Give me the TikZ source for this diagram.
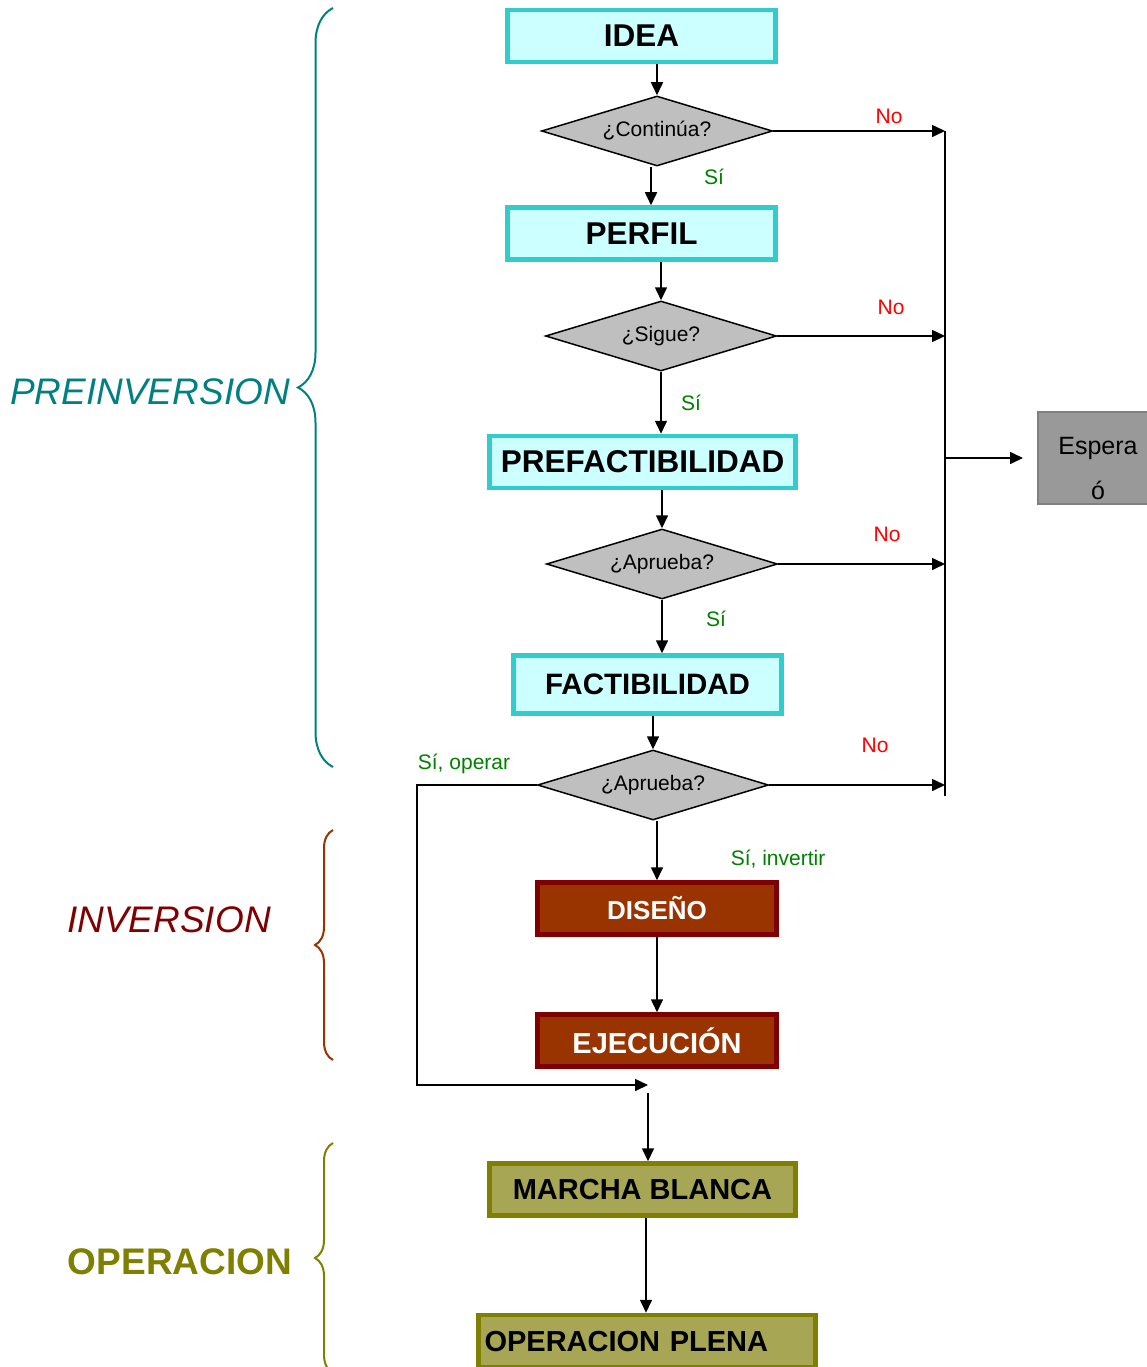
\documentclass[tikz,border=0pt]{standalone}
\usepackage{fontspec}
\setmainfont{Liberation Sans}
\usepackage{xcolor}
\usetikzlibrary{shapes.geometric,arrows.meta,decorations.pathreplacing}
\definecolor{cyb}{HTML}{33CCCC}
\definecolor{cyf}{HTML}{CCFFFF}
\definecolor{brb}{HTML}{800000}
\definecolor{brf}{HTML}{993300}
\definecolor{olb}{HTML}{808000}
\definecolor{olf}{HTML}{A6A654}
\definecolor{tea}{HTML}{008080}
\definecolor{grn}{HTML}{008000}

\begin{document}
\begin{tikzpicture}[x=1pt,y=-1pt,
  >={Triangle[length=13pt,width=12pt]},
  pre/.style={rectangle,draw=cyb,fill=cyf,line width=4.5pt,inner sep=6pt,
    minimum width=268pt,minimum height=52pt,font=\fontsize{31.5}{36}\selectfont\bfseries},
  inv/.style={rectangle,draw=brb,fill=brf,line width=4.5pt,inner sep=6pt,text=white,
    minimum width=239pt,minimum height=52pt,font=\fontsize{29}{35}\selectfont\bfseries},
  op/.style={rectangle,draw=olb,fill=olf,line width=4.5pt,inner sep=6pt,
    minimum width=306pt,minimum height=52pt,font=\fontsize{29}{35}\selectfont\bfseries},
  qu/.style={diamond,aspect=3.3,draw,fill=gray!50,line width=1.5pt,inner sep=0pt,
    minimum width=231pt,minimum height=70pt,font=\fontsize{21}{25}\selectfont},
  es/.style={rectangle,draw=gray,fill=gray!80,line width=2pt,align=center,
    minimum width=120pt,minimum height=92pt,font=\fontsize{25}{45}\selectfont},
  sy/.style={text=grn,font=\fontsize{21}{25}\selectfont},
  nr/.style={text=red,font=\fontsize{21}{25}\selectfont},
  fa/.style={font=\fontsize{37}{44}\selectfont},
  ar/.style={->,line width=1.6pt},
  ln/.style={line width=1.6pt},
  br/.style={line width=2pt,decorate,decoration={brace,amplitude=#1}},
  ]
  \useasboundingbox (0,0) rectangle (1147,1367);

  \node at (641.5,36) [pre] (idea) {IDEA};
  \node at (657,131) [qu] (d1) {¿Continúa?};
  \node at (641.5,233.5) [pre] (perfil) {PERFIL};
  \node at (661,336) [qu] (d2) {¿Sigue?};
  \node at (642.5,462) [pre,minimum width=306pt] (prefac) {PREFACTIBILIDAD};
  \node at (662,564) [qu] (d3) {¿Aprueba?};
  \node at (647.5,684.5) [pre,minimum height=58pt,font=\fontsize{29.5}{35}\selectfont\bfseries] (fac) {FACTIBILIDAD};
  \node at (653,785) [qu] (d4) {¿Aprueba?};

  \node at (657,908.5) [inv,font=\fontsize{26}{32}\selectfont\bfseries] (dis) {DISEÑO};
  \node at (657,1040.5) [inv] (eje) {EJECUCIÓN};
  \node at (642.5,1189.5) [op] (mb) {MARCHA BLANCA};
  \node at (647,1341) [op,minimum width=337pt,text width=325pt,align=left] (opl) {OPERACION PLENA};

  \node at (1098,458) [es] (esp) {\rule{0pt}{38pt}Espera\\ó};

  \node at (889,116) [nr] (n1) {No};
  \node at (714,177) [sy] (s1) {Sí};
  \node at (891,307) [nr] (n2) {No};
  \node at (691,403) [sy] (s2) {Sí};
  \node at (887,534) [nr] (n3) {No};
  \node at (716,619) [sy] (s3) {Sí};
  \node at (875,745) [nr] (n4) {No};
  \node at (464,764) [sy] (s4) {Sí, operar};
  \node at (778,859) [sy] (s5) {Sí, invertir};

  \coordinate (ct) at (945,131);
  \coordinate (cb) at (945,796);
  \coordinate (lf) at (417,1085);
  \coordinate (jn) at (648,1085);

  \draw[ar] (d1.north |- idea.south) -- (d1.north);
  \draw[ar] ([xshift=-6pt]d1.south) -- ([xshift=-6pt]d1.south |- perfil.north);
  \draw[ar] (d2.north |- perfil.south) -- (d2.north);
  \draw[ar] (d2.south) -- (d2.south |- prefac.north);
  \draw[ar] (d3.north |- prefac.south) -- (d3.north);
  \draw[ar] (d3.south) -- (d3.south |- fac.north);
  \draw[ar] (d4.north |- fac.south) -- (d4.north);
  \draw[ar] (dis.north |- d4.south) -- (dis.north);
  \draw[ar] (dis.south) -- (eje.north);
  \draw[ar] (d4.west) -| (lf) -- (jn);
  \draw[ar] ([yshift=-8pt]jn) -- (jn |- mb.north);
  \draw[ar] ([xshift=3.5pt]mb.south) -- ([xshift=3.5pt]mb.south |- opl.north);

  \draw[ln] (ct) -- (cb);
  \draw[ar] (d1.east) -- (d1.east -| ct);
  \draw[ar] (d2.east) -- (d2.east -| ct);
  \draw[ar] (d3.east) -- (d3.east -| ct);
  \draw[ar] (d4.east) -- (d4.east -| ct);
  \draw[ar] (ct |- esp.west) -- ([xshift=-14pt]esp.west);

  % fases
  \draw[br=35pt,tea] (333,767) -- (333,8);
  \draw[br=18pt,brf] (333,1060) -- (333,830);
  \draw[br=18pt,olb] (333,1373) -- (333,1143);
  \node at (150,392) [fa,text=tea,font=\fontsize{37}{44}\selectfont\itshape] (pin) {PREINVERSION};
  \node at (169,920) [fa,text=brb,font=\fontsize{37}{44}\selectfont\itshape] (inv) {INVERSION};
  \node at (180,1262) [fa,text=olb,font=\fontsize{37}{44}\selectfont\bfseries] (ope) {OPERACION};
\end{tikzpicture}
\end{document}
